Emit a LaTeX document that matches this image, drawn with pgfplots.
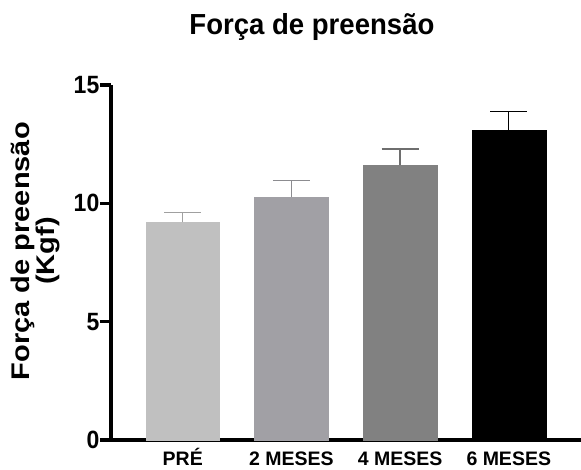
\documentclass[border=0pt]{standalone}
\usepackage{pgfplots}
\pgfplotsset{compat=1.18}
\usepackage{graphicx}
\usepackage{fontspec}
\setmainfont{Liberation Sans}
\newfontfamily\condA[FakeStretch=0.92]{Liberation Sans}
\newfontfamily\condB[FakeStretch=0.95]{Liberation Sans}
\definecolor{c1}{RGB}{192,192,192}
\definecolor{c2}{RGB}{161,160,165}
\definecolor{c3}{RGB}{129,129,129}
\definecolor{c4}{RGB}{0,0,0}
\definecolor{e1}{RGB}{160,160,160}
\definecolor{e2}{RGB}{140,140,144}
\definecolor{e3}{RGB}{110,110,110}
\definecolor{e4}{RGB}{0,0,0}
\begin{document}
\begin{tikzpicture}
\useasboundingbox (-111bp,-30bp) rectangle (470bp,440bp);
\begin{axis}[
  at={(0,0)}, anchor=south west,
  scale only axis, width=469.5bp, height=355bp,
  xmin=-0.66, xmax=3.66, ymin=0, ymax=15,
  ytick={0,5,10,15},
  xtick={0,1,2,3},
  xticklabels={PRÉ,2 MESES,4 MESES,6 MESES},
  axis x line=bottom, axis y line=left,
  axis line style={line width=3.2bp,-},
  tick align=outside,
  major tick length=11bp,
  ytick style={line width=3.2bp, black},
  xtick style={draw=none},
  /pgf/number format/assume math mode=true,
  yticklabel style={font=\fontsize{25bp}{27bp}\selectfont\condA\bfseries, inner sep=0.5bp},
  xticklabel style={font=\fontsize{19.5bp}{21bp}\selectfont\bfseries, anchor=base, inner sep=0pt, yshift=-14bp},
  title={Força de preensão},
  title style={at={(axis description cs:0.428,1)}, anchor=base, yshift=45bp, font=\fontsize{29bp}{31bp}\selectfont\condB\bfseries},
  ylabel={\scalebox{1}[0.88]{\begin{tabular}{@{}c@{}}Força de preensão\\[-2bp](Kgf)\end{tabular}}},
  ylabel style={at={(axis description cs:-0.1587,0.532)}, anchor=center, inner sep=0pt, font=\fontsize{29bp}{28bp}\selectfont\bfseries},
  ybar, bar width=0.68, bar shift=0,
  clip=false,
]
\addplot[fill=c1, draw=c1, error bars/.cd, y dir=plus, y explicit,
  error bar style={color=e1, line width=1.3bp},
  error mark options={rotate=90, mark size=18.5bp, line width=1.3bp, color=e1}]
  coordinates {(0,9.2) +- (0,0.4)};
\addplot[fill=c2, draw=c2, error bars/.cd, y dir=plus, y explicit,
  error bar style={color=e2, line width=1.3bp},
  error mark options={rotate=90, mark size=18.5bp, line width=1.3bp, color=e2}]
  coordinates {(1,10.25) +- (0,0.7)};
\addplot[fill=c3, draw=c3, error bars/.cd, y dir=plus, y explicit,
  error bar style={color=e3, line width=1.3bp},
  error mark options={rotate=90, mark size=18.5bp, line width=1.3bp, color=e3}]
  coordinates {(2,11.6) +- (0,0.7)};
\addplot[fill=c4, draw=c4, error bars/.cd, y dir=plus, y explicit,
  error bar style={color=e4, line width=1.3bp},
  error mark options={rotate=90, mark size=18.5bp, line width=1.3bp, color=e4}]
  coordinates {(3,13.1) +- (0,0.77)};
\end{axis}
\end{tikzpicture}
\end{document}
